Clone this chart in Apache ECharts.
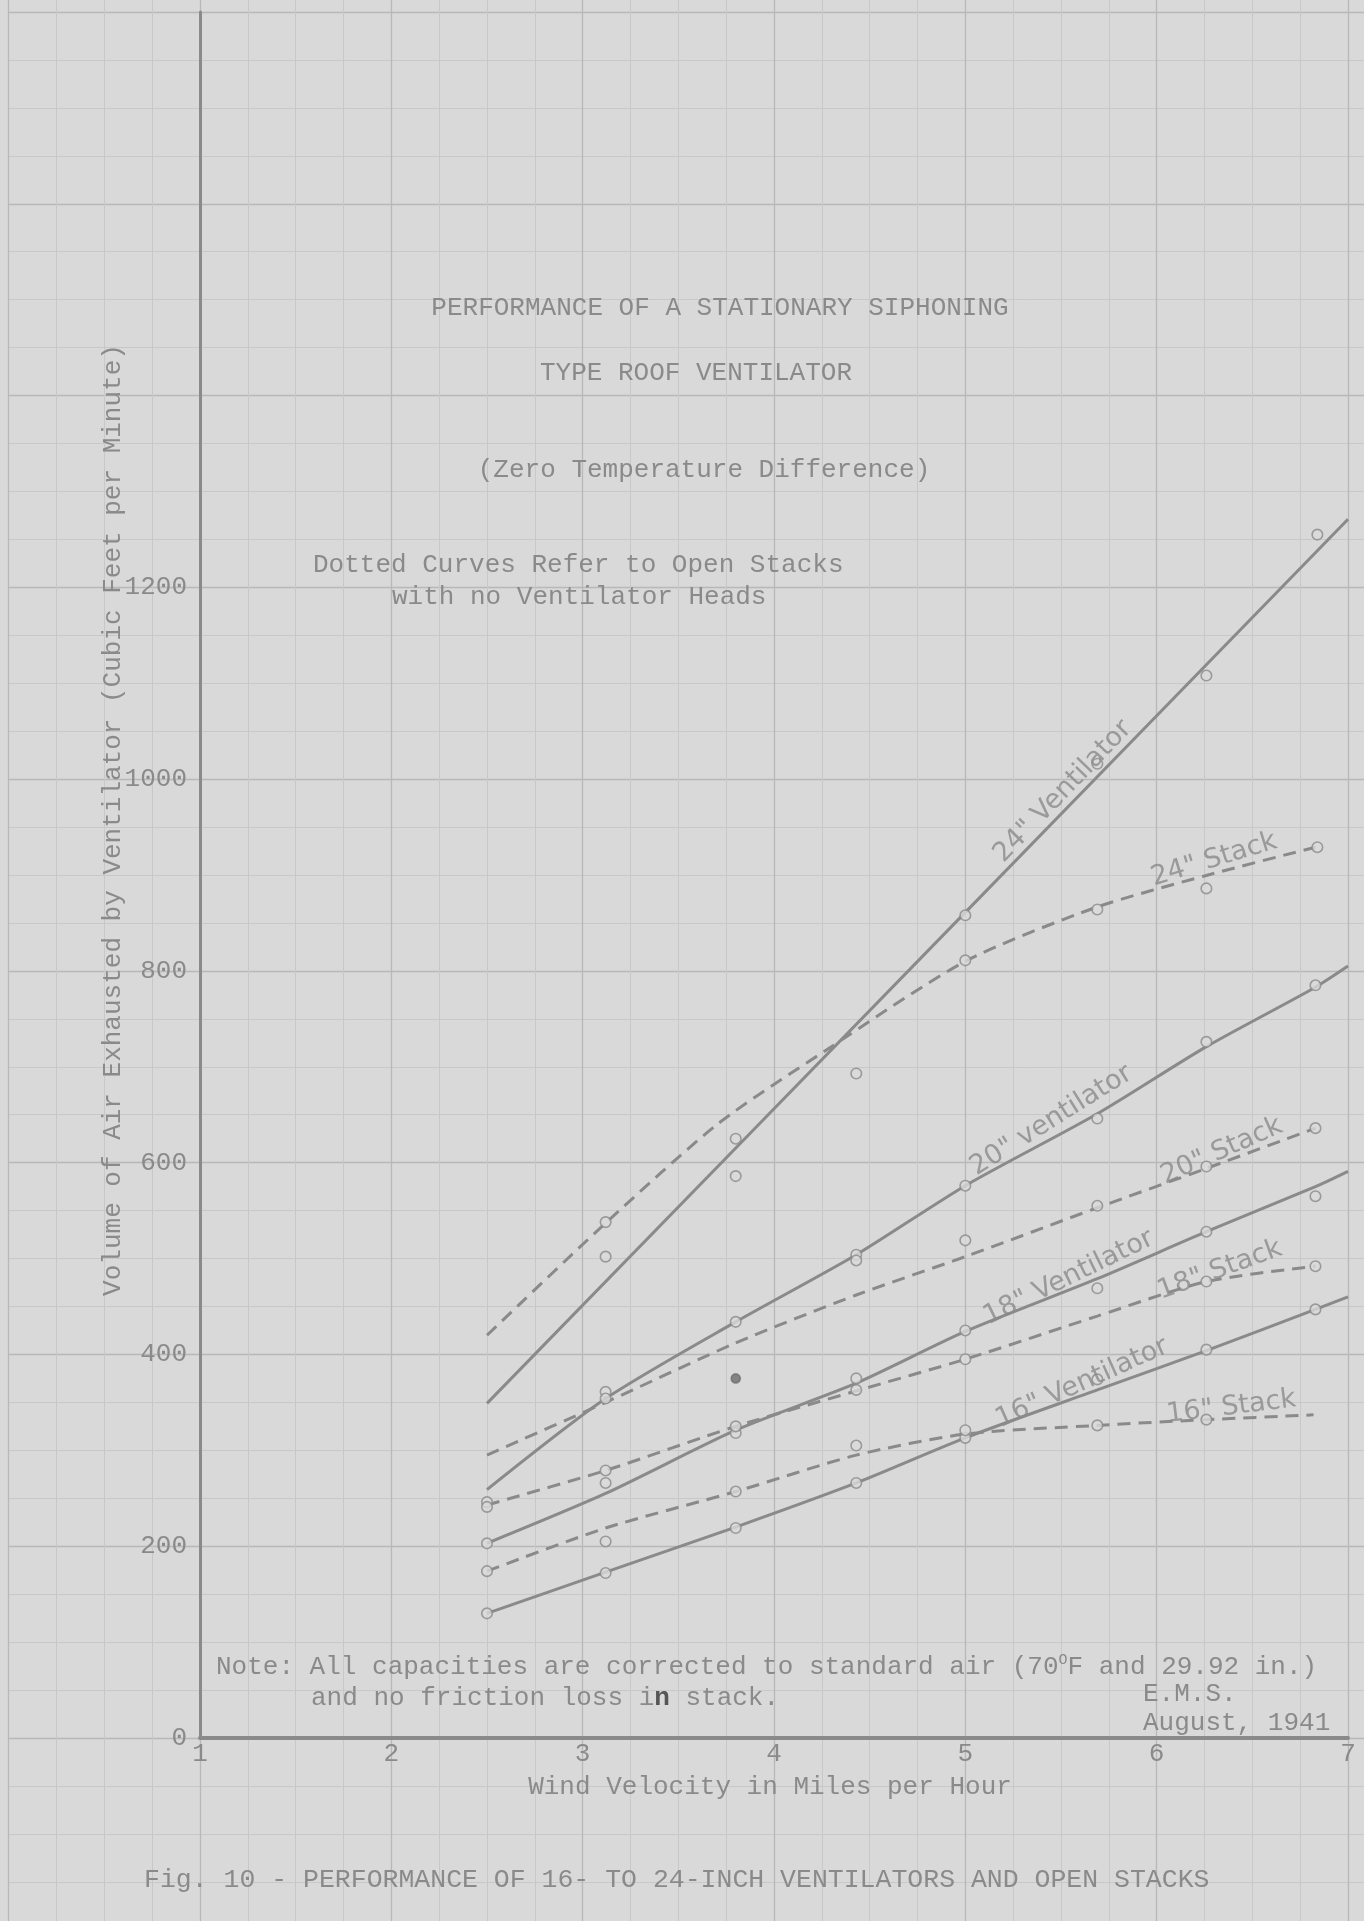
<!DOCTYPE html>
<html>
<head>
<meta charset="utf-8">
<title>Fig. 10 - Performance of 16- to 24-inch ventilators and open stacks</title>
<script src="https://cdn.jsdelivr.net/npm/echarts@6/dist/echarts.min.js"></script>
<style>
  html, body { margin: 0; padding: 0; background: #d9d9d9; }
  #chart { width: 1364px; height: 1921px; }
</style>
</head>
<body>
<div id="chart"></div>
<script>
// wind velocity (mph) -> air exhausted (cfm)

// faired curves
var vent24Curve = [[2.5, 349], [5.0, 861], [7.0, 1271]];
var stack24Curve = [[2.5, 420], [3.12, 537], [3.71, 641], [4.27, 717], [5.0, 810], [5.68, 866], [6.25, 899], [6.83, 929]];
var vent20Curve = [[2.5, 259], [3.12, 354], [3.8, 434], [4.43, 504], [5.0, 576], [5.69, 651], [6.26, 721], [6.83, 783], [7.0, 805]];
var stack20Curve = [[2.5, 295], [3.12, 350], [3.8, 412], [4.43, 462], [5.0, 502], [5.69, 553], [6.26, 594], [6.83, 636]];
var vent18Curve = [[2.5, 203], [3.12, 255], [3.8, 321], [4.43, 370], [5.0, 424], [5.69, 479], [6.26, 528], [6.83, 575], [7.0, 591]];
var stack18Curve = [[2.5, 243], [3.12, 279], [3.8, 325], [4.43, 362], [5.0, 395], [5.69, 440], [6.26, 476], [6.83, 492]];
var vent16Curve = [[2.5, 130], [3.12, 173], [3.8, 220], [4.43, 266], [5.0, 313], [5.69, 363], [6.26, 404], [6.83, 447], [7.0, 460]];
var stack16Curve = [[2.5, 174], [3.12, 219], [3.8, 257], [4.43, 295], [5.0, 317], [5.69, 326], [6.26, 332], [6.82, 337]];

// observed points
var vent24Pts = [[3.12, 502], [3.8, 586], [5.0, 858], [5.69, 1016], [6.26, 1108], [6.84, 1255]];
var stack24Pts = [[3.12, 538], [3.8, 625], [4.43, 693], [5.0, 811], [5.69, 864], [6.26, 886], [6.84, 929]];
var vent20Pts = [[3.12, 361], [3.8, 434], [4.43, 504], [4.43, 498], [5.0, 576], [5.69, 646], [6.26, 726], [6.83, 785]];
var stack20Pts = [[3.12, 354], [5.0, 519], [5.69, 555], [6.26, 596], [6.83, 636]];
var stack20Solid = [[3.8, 375]];
var vent18Pts = [[2.5, 203], [3.12, 266], [3.8, 318], [4.43, 375], [5.0, 425], [5.69, 469], [6.26, 528], [6.83, 565]];
var stack18Pts = [[2.5, 246], [2.5, 241], [3.12, 279], [3.8, 325], [4.43, 363], [5.0, 395], [6.26, 476], [6.83, 492]];
var vent16Pts = [[2.5, 130], [3.12, 172], [3.8, 219], [4.43, 266], [5.0, 313], [5.69, 374], [6.26, 405], [6.83, 447]];
var stack16Pts = [[2.5, 174], [3.12, 205], [3.8, 257], [4.43, 305], [5.0, 321], [5.69, 326], [6.26, 332]];

var xTicks = [1, 2, 3, 4, 5, 6, 7];
var yTicks = [0, 200, 400, 600, 800, 1000, 1200];

// hand lettering on the curves
var curveLabels = [
  { text: '24" Ventilator', x: 5.51, y: 987, angle: 46 },
  { text: '24" Stack', x: 6.30, y: 916, angle: 17 },
  { text: '20" ventilator', x: 5.45, y: 644, angle: 32 },
  { text: '20" Stack', x: 6.34, y: 612, angle: 24 },
  { text: '18" Ventilator', x: 5.54, y: 480, angle: 26 },
  { text: '18" Stack', x: 6.33, y: 488, angle: 20 },
  { text: '16" Ventilator', x: 5.61, y: 370, angle: 24 },
  { text: '16" Stack', x: 6.39, y: 345, angle: 7 }
];

var INK = '#8a8a8a';
var PAPER = '#d9d9d9';
var TYPE = 'Liberation Mono, DejaVu Sans Mono, monospace';
var HAND = 'DejaVu Sans, Noto Sans, sans-serif';

// one mph = 191.33 px, 200 cfm = 191.8 px on the sheet
var PX_X = 191.33, PX_Y = 1726 / 1800;

function curve(name, data, dashed) {
  return {
    name: name, type: 'line', xAxisIndex: 1, yAxisIndex: 1,
    data: data, smooth: 0.25, symbol: 'none', silent: true, z: 3,
    lineStyle: { color: INK, width: 3, type: dashed ? [13, 8] : 'solid' }
  };
}
function points(name, data, filled) {
  return {
    name: name, type: 'scatter', xAxisIndex: 1, yAxisIndex: 1,
    data: data, symbol: 'circle', symbolSize: filled ? 9 : 10.5, silent: true, z: 4,
    itemStyle: { color: filled ? '#6e6e6e' : PAPER, borderColor: filled ? '#6e6e6e' : INK, borderWidth: 1.6 }
  };
}
function txt(text, x, y, size, align, extra) {
  var el = {
    type: 'text', x: x, y: y, silent: true, z: 10,
    style: { text: text, fontFamily: TYPE, fontSize: size || 26, fill: INK, align: align || 'center', verticalAlign: 'middle' }
  };
  if (extra) for (var k in extra) el.style[k] = extra[k];
  return el;
}

var chart = echarts.init(document.getElementById('chart'));

chart.setOption({
  backgroundColor: PAPER,
  animation: false,
  grid: [
    // graph paper, laid out so its rulings meet the plot axes
    { left: 200 - PX_X, top: 12 - 200 * PX_Y, width: 8 * PX_X, height: 2200 * PX_Y, outerBoundsMode: 'none', containLabel: false },
    { left: 200, top: 12, width: 6 * PX_X, height: 1800 * PX_Y, outerBoundsMode: 'none', containLabel: false }
  ],
  xAxis: [{
    gridIndex: 0, type: 'value', min: 0, max: 8, interval: 1,
    axisLine: { show: false }, axisTick: { show: false }, axisLabel: { show: false },
    splitLine: { show: true, lineStyle: { color: '#b8b8b8', width: 1.3 } },
    minorTick: { show: false, splitNumber: 4 },
    minorSplitLine: { show: true, lineStyle: { color: '#c8c8c8', width: 1 } }
  }, {
    gridIndex: 1, type: 'value', min: xTicks[0], max: xTicks[xTicks.length - 1], interval: 1,
    axisLine: { show: true, onZero: false, lineStyle: { color: INK, width: 4 } },
    axisTick: { show: false },
    axisLabel: { color: INK, fontFamily: TYPE, fontSize: 26, margin: 3 },
    splitLine: { show: false }
  }],
  yAxis: [{
    gridIndex: 0, type: 'value', min: -200, max: 2000, interval: 200,
    axisLine: { show: false }, axisTick: { show: false }, axisLabel: { show: false },
    splitLine: { show: true, lineStyle: { color: '#b8b8b8', width: 1.3 } },
    minorTick: { show: false, splitNumber: 4 },
    minorSplitLine: { show: true, lineStyle: { color: '#c8c8c8', width: 1 } }
  }, {
    gridIndex: 1, type: 'value', min: 0, max: 1800, interval: 200,
    axisLine: { show: true, lineStyle: { color: INK, width: 3 } },
    axisTick: { show: false },
    axisLabel: {
      color: INK, fontFamily: TYPE, fontSize: 26, margin: 13,
      formatter: function (v) { return yTicks.indexOf(v) >= 0 ? String(v) : ''; }
    },
    splitLine: { show: false }
  }],
  series: [
    curve('24" Ventilator', vent24Curve, false),
    curve('24" Stack', stack24Curve, true),
    curve('20" Ventilator', vent20Curve, false),
    curve('20" Stack', stack20Curve, true),
    curve('18" Ventilator', vent18Curve, false),
    curve('18" Stack', stack18Curve, true),
    curve('16" Ventilator', vent16Curve, false),
    curve('16" Stack', stack16Curve, true),
    points('24" Ventilator test', vent24Pts),
    points('24" Stack test', stack24Pts),
    points('20" Ventilator test', vent20Pts),
    points('20" Stack test', stack20Pts),
    points('20" Stack test (solid)', stack20Solid, true),
    points('18" Ventilator test', vent18Pts),
    points('18" Stack test', stack18Pts),
    points('16" Ventilator test', vent16Pts),
    points('16" Stack test', stack16Pts),
    {
      name: 'curve labels', type: 'scatter', xAxisIndex: 1, yAxisIndex: 1,
      symbolSize: 0, silent: true, z: 5,
      label: { show: true, position: 'inside', color: INK, fontFamily: HAND, fontSize: 27 },
      data: curveLabels.map(function (l) {
        return { value: [l.x, l.y], label: { formatter: l.text, rotate: l.angle } };
      })
    }
  ],
  graphic: [
    txt('PERFORMANCE OF A STATIONARY SIPHONING', 720, 308),
    txt('TYPE ROOF VENTILATOR', 696, 373),
    txt('(Zero Temperature Difference)', 704, 470),
    txt('Dotted Curves Refer to Open Stacks', 313, 565, 26, 'left'),
    txt('with no Ventilator Heads', 392, 597, 26, 'left'),
    {
      type: 'text', x: 113, y: 820, rotation: Math.PI / 2, silent: true, z: 10,
      style: {
        text: 'Volume of Air Exhausted by Ventilator (Cubic Feet per Minute)',
        fontFamily: TYPE, fontSize: 26, fill: INK, align: 'center', verticalAlign: 'middle'
      }
    },
    txt('Wind Velocity in Miles per Hour', 770, 1787),
    txt('Note: All capacities are corrected to standard air (70{sup|O}F and 29.92 in.)', 216, 1667, 26, 'left', {
      rich: { sup: { fontFamily: TYPE, fontSize: 15, fill: INK, padding: [0, 0, 14, 0] } }
    }),
    txt('and no friction loss i{b|n} stack.', 311, 1698, 26, 'left', {
      rich: { b: { fontFamily: TYPE, fontSize: 26, fill: '#555', fontWeight: 'bold' } }
    }),
    txt('E.M.S.', 1143, 1694, 26, 'left'),
    txt('August, 1941', 1143, 1723, 26, 'left'),
    txt('Fig. 10 - PERFORMANCE OF 16- TO 24-INCH VENTILATORS AND OPEN STACKS', 144, 1880, 26.5, 'left')
  ]
});
</script>
</body>
</html>
